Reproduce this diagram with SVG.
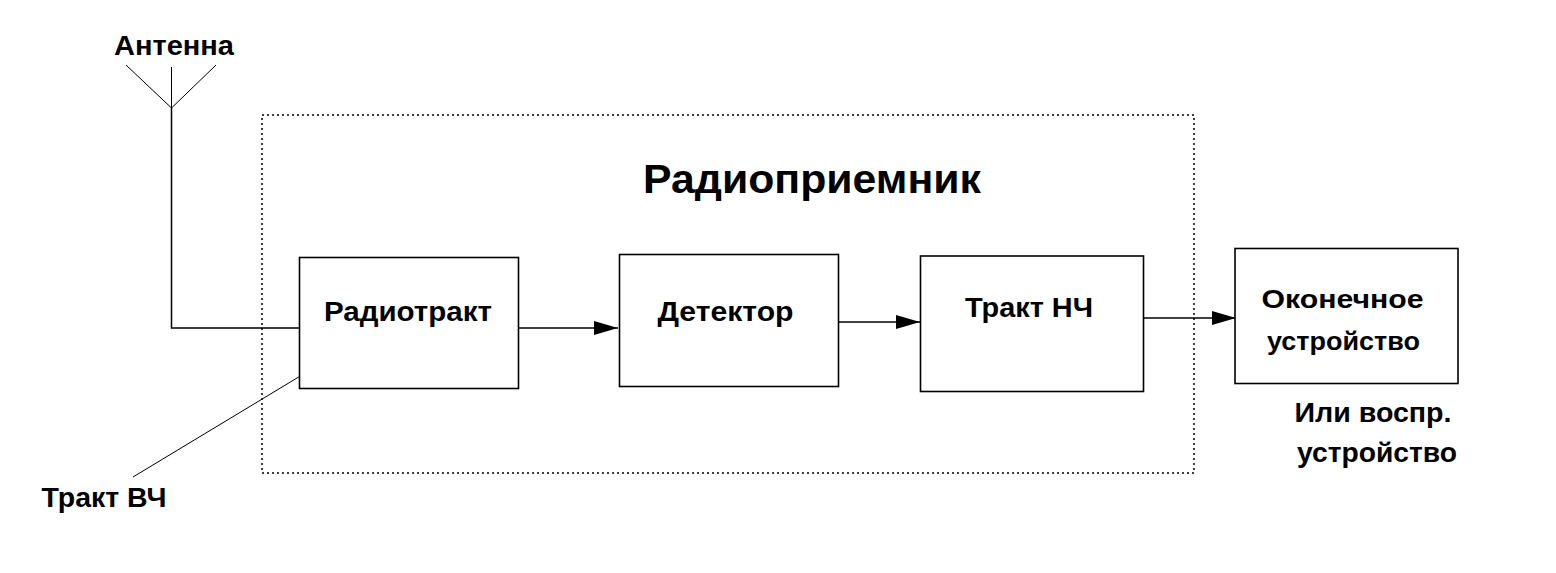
<svg xmlns="http://www.w3.org/2000/svg" width="1556" height="573" viewBox="0 0 1556 573">
<style>
text{font-family:"Liberation Sans",Arial,sans-serif;font-weight:bold;fill:#000;text-anchor:middle}
.box{fill:#fff;stroke:#000;stroke-width:1.6}
.ln{fill:none;stroke:#000;stroke-width:1.5}
.thin{fill:none;stroke:#000;stroke-width:1}
.dash{fill:none;stroke:#000;stroke-width:1.5;stroke-dasharray:2 3}
</style>
<defs>
<marker id="arr" markerUnits="userSpaceOnUse" markerWidth="26" markerHeight="16" refX="24" refY="7" orient="auto">
<path d="M0,0 L24,7 L0,14 Z" fill="#000"/>
</marker>
</defs>
<rect width="1556" height="573" fill="#fff"/>
<g id="receiver">
<rect class="dash" x="262" y="115" width="932" height="358"/>
<text x="812" y="193" font-size="40" textLength="338" lengthAdjust="spacingAndGlyphs">Радиоприемник</text>
</g>
<g id="antenna">
<path class="thin" d="M126,65 L171.5,108 L216,65 M171.5,67 L171.5,108"/>
<text x="174" y="55" font-size="27" textLength="120" lengthAdjust="spacingAndGlyphs">Антенна</text>
</g>
<g id="connectors">
<path class="ln" d="M171.5,108 L171.5,328 L299,328"/>
<line class="ln" x1="519" y1="328" x2="618" y2="328" marker-end="url(#arr)"/>
<line class="ln" x1="839" y1="322" x2="920" y2="322" marker-end="url(#arr)"/>
<line class="ln" x1="1140" y1="318" x2="1236" y2="318" marker-end="url(#arr)"/>
<line class="thin" x1="302" y1="375" x2="133" y2="477"/>
</g>
<g id="radiotrakt">
<rect class="box" x="299.5" y="257.5" width="219" height="131"/>
<text x="408" y="321" font-size="27" textLength="168" lengthAdjust="spacingAndGlyphs">Радиотракт</text>
</g>
<g id="detektor">
<rect class="box" x="619.5" y="254.5" width="219" height="132"/>
<text x="725.5" y="321" font-size="27" textLength="136" lengthAdjust="spacingAndGlyphs">Детектор</text>
</g>
<g id="trakt-nch">
<rect class="box" x="920.5" y="256" width="223" height="135.5"/>
<text x="1029" y="317" font-size="27" textLength="128" lengthAdjust="spacingAndGlyphs">Тракт НЧ</text>
</g>
<g id="okonechnoe">
<rect class="box" x="1235" y="248.5" width="223" height="135"/>
<text x="1342.5" y="308" font-size="26" textLength="162" lengthAdjust="spacingAndGlyphs">Оконечное</text>
<text x="1343.5" y="350" font-size="26" textLength="153" lengthAdjust="spacingAndGlyphs">устройство</text>
</g>
<g id="vospr">
<text x="1373" y="422" font-size="27" textLength="157" lengthAdjust="spacingAndGlyphs">Или воспр.</text>
<text x="1377" y="462" font-size="27" textLength="160" lengthAdjust="spacingAndGlyphs">устройство</text>
</g>
<g id="trakt-vch">
<text x="104" y="507" font-size="27" textLength="125" lengthAdjust="spacingAndGlyphs">Тракт ВЧ</text>
</g>
</svg>
